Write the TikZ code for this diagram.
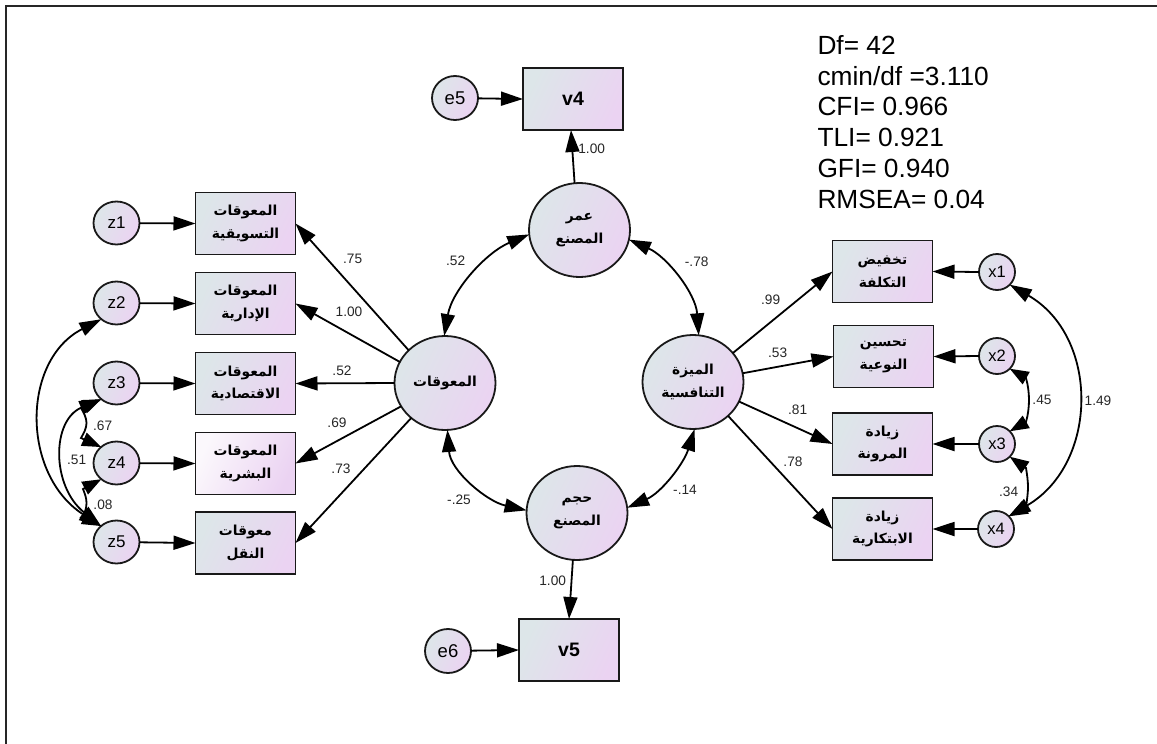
\documentclass[tikz,border=0pt]{standalone}
\usepackage{fontspec}
\setmainfont{Liberation Sans}
\newfontfamily\arabicfont[Script=Arabic]{DejaVu Sans}
\TeXXeTstate=1
\usetikzlibrary{arrows.meta,shapes.geometric}
\newcommand{\arl}[1]{\beginR #1\endR}
\definecolor{gradA}{HTML}{DDE6E9}
\definecolor{gradB}{HTML}{EBD3F2}
\definecolor{gradW}{HTML}{FBF8FC}
\definecolor{labcol}{HTML}{262626}
\tikzset{
  grad/.style={draw=black!90,line width=1.8pt,left color=gradA,right color=gradB,shading angle=65,inner sep=0pt,outer sep=0pt,align=center},
  obsbox/.style={grad,rectangle,minimum width=100pt,minimum height=62pt,font=\arabicfont\bfseries\fontsize{13.8}{22.7}\selectfont},
  lettbox/.style={grad,rectangle,minimum width=100pt,minimum height=62pt,font=\bfseries\fontsize{19.5}{22}\selectfont},
  errL/.style={grad,ellipse,minimum width=46pt,minimum height=43pt,font=\fontsize{17}{20}\selectfont},
  errE/.style={grad,ellipse,minimum width=46pt,minimum height=44pt,font=\fontsize{18.5}{20}\selectfont},
  errR/.style={grad,ellipse,minimum width=36pt,minimum height=36pt,font=\fontsize{16.5}{20}\selectfont},
  latent/.style={grad,ellipse,minimum width=101pt,minimum height=94pt,font=\arabicfont\bfseries\fontsize{13.8}{22.7}\selectfont},
  lab/.style={text=labcol,inner sep=0pt,font=\fontsize{13.7}{15}\selectfont},
  stats/.style={text=black,inner sep=0pt,align=left,anchor=north west,font=\fontsize{26.3}{30.8}\selectfont},
  arr/.style={draw=black,line width=1.8pt,-{Triangle[length=22pt,width=14pt]}},
  dbl/.style={draw=black,line width=1.8pt,{Triangle[length=22pt,width=14pt]}-{Triangle[length=22pt,width=14pt]}},
  dblsmall/.style={draw=black,line width=1.8pt,{Triangle[length=19pt,width=14pt]}-{Triangle[length=19pt,width=14pt]}},
  frameline/.style={draw=black!85,line width=2pt}
}
\begin{document}
\begin{tikzpicture}[x=1pt,y=-1pt]
\useasboundingbox (0,0) rectangle (1157,744);
\draw[frameline] (6,744) -- (6,6) -- (1157,6);
% observed left
\node[obsbox] (b1) at (245.5,223.5) {\arl{المعوقات}\\\arl{التسويقية}};
\node[obsbox] (b2) at (245.5,303.5) {\arl{المعوقات}\\\arl{الإدارية}};
\node[obsbox] (b3) at (245.5,383.5) {\arl{المعوقات}\\\arl{الاقتصادية}};
\node[obsbox,left color=gradW,right color=gradB,shading angle=65] (b4) at (245.5,463.5) {\arl{المعوقات}\\\arl{البشرية}};
\node[obsbox] (b5) at (245.5,543) {\arl{معوقات}\\\arl{النقل}};
\foreach \i/\y in {1/223,2/303,3/383,4/463,5/542} \node[errL] (z\i) at (116.5,\y) {z\i};
% observed right
\node[obsbox] (g1) at (882.5,271.5) {\arl{تخفيض}\\\arl{التكلفة}};
\node[obsbox] (g2) at (883.5,356.5) {\arl{تحسين}\\\arl{النوعية}};
\node[obsbox] (g3) at (882.5,444) {\arl{زيادة}\\\arl{المرونة}};
\node[obsbox] (g4) at (882.5,529) {\arl{زيادة}\\\arl{الابتكارية}};
\node[errR] (x1) at (997,272) {x1};
\node[errR] (x2) at (997,356) {x2};
\node[errR] (x3) at (997,444) {x3};
\node[errR] (x4) at (996,529) {x4};
% latent
\node[latent] (C) at (445,383) {\arl{المعوقات}};
\node[latent] (F) at (693,382) {\arl{الميزة}\\\arl{التنافسية}};
\node[latent] (A) at (579.5,230) {\arl{عمر}\\\arl{المصنع}};
\node[latent] (B) at (577,513) {\arl{حجم}\\\arl{المصنع}};
% top bottom
\node[lettbox] (v4) at (573,99) {v4};
\node[lettbox] (v5) at (569,650) {v5};
\node[errE] (e5) at (455,98) {e5};
\node[errE] (e6) at (448,651) {e6};
% straight arrows
\foreach \i in {1,...,5} \draw[arr] (z\i) -- (b\i.west);
\foreach \i in {1,...,4} \draw[arr] (x\i.west) -- (g\i.east);
\draw[arr] (e5) -- (v4.west);
\draw[arr] (e6) -- (v5.west);
\draw[arr] (C.138) -- (b1.east);
\draw[arr] (C.155) -- (b2.east);
\draw[arr] (C.180) -- (b3.east);
\draw[arr] (C.208) -- (b4.east);
\draw[arr] (C.226) -- (b5.east);
\draw[arr] (F.36) -- (g1.west);
\draw[arr] (F.10) -- (g2.west);
\draw[arr] (F.-23) -- (g3.west);
\draw[arr] (F.-44) -- (g4.west);
\draw[arr] (A.96) -- ([xshift=-2pt]v4.south);
\draw[arr] (B.265) -- (v5.north);
% covariances
\draw[dbl] (A.185) .. controls +(-43,18) and +(8,-46) .. (C.91);
\draw[dbl] (A.349) .. controls +(38,17) and +(-3,-42) .. (F.83);
\draw[dbl] (C.273) .. controls +(3,41) and +(-40,-9) .. (B.177);
\draw[dbl] (F.272) .. controls +(-11,35) and +(34,-15) .. (B.6);
\draw[dbl] (z2.227) .. controls +(-80,41) and +(-80,-52) .. (z5.134);
\draw[dbl] (z3.227) .. controls +(-50,21) and +(-50,-40) .. (z5.134);
\draw[dblsmall] (z3.227) -- (81,408) .. controls (84,413) and (86.5,418) .. (86.5,423) .. controls (86.5,428) and (84,433) .. (81,438) -- (z4.134);
\draw[dblsmall] (z4.227) -- (83,489) .. controls (85,494) and (86.5,498) .. (86.5,503) .. controls (86.5,508) and (85,512) .. (83,517) -- (z5.134);
\draw[dbl] (x1.-45) .. controls +(90,52) and +(90,-53) .. (x4.45);
\draw[dblsmall] (x2.-45) -- (1026,378) .. controls (1028,385) and (1029,393) .. (1029,400) .. controls (1029,407) and (1028,415) .. (1026,422) -- (x3.45);
\draw[dblsmall] (x3.-45) -- (1026,468) .. controls (1027,474) and (1028,481) .. (1028,487) .. controls (1028,493) and (1027,500) .. (1026,507) -- (x4.45);
% labels
\node[lab] (l1) at (352.7,259) {.75};
\node[lab] (l2) at (349,312) {1.00};
\node[lab] (l3) at (342,371) {.52};
\node[lab] (l4) at (337,423) {.69};
\node[lab] (l5) at (341,469) {.73};
\node[lab] (l6) at (102.7,426) {.67};
\node[lab] (l7) at (76.7,460) {.51};
\node[lab] (l8) at (103,505) {.08};
\node[lab] (l9) at (770.7,300) {.99};
\node[lab] (l10) at (777.7,352.7) {.53};
\node[lab] (l11) at (797.7,410) {.81};
\node[lab] (l12) at (793,461.7) {.78};
\node[lab] (l13) at (1042,400) {.45};
\node[lab] (l14) at (1098,401) {1.49};
\node[lab] (l15) at (1008.7,492) {.34};
\node[lab] (l16) at (591.7,148.7) {1.00};
\node[lab] (l17) at (455.7,260.7) {.52};
\node[lab] (l18) at (696.7,262) {-.78};
\node[lab] (l19) at (459,500) {-.25};
\node[lab] (l20) at (685,490) {-.14};
\node[lab] (l21) at (552.7,581) {1.00};
\node[stats] (s) at (817.3,35) {Df= 42\\cmin/df =3.110\\CFI= 0.966\\TLI= 0.921\\GFI= 0.940\\RMSEA= 0.04};
\end{tikzpicture}
\end{document}
